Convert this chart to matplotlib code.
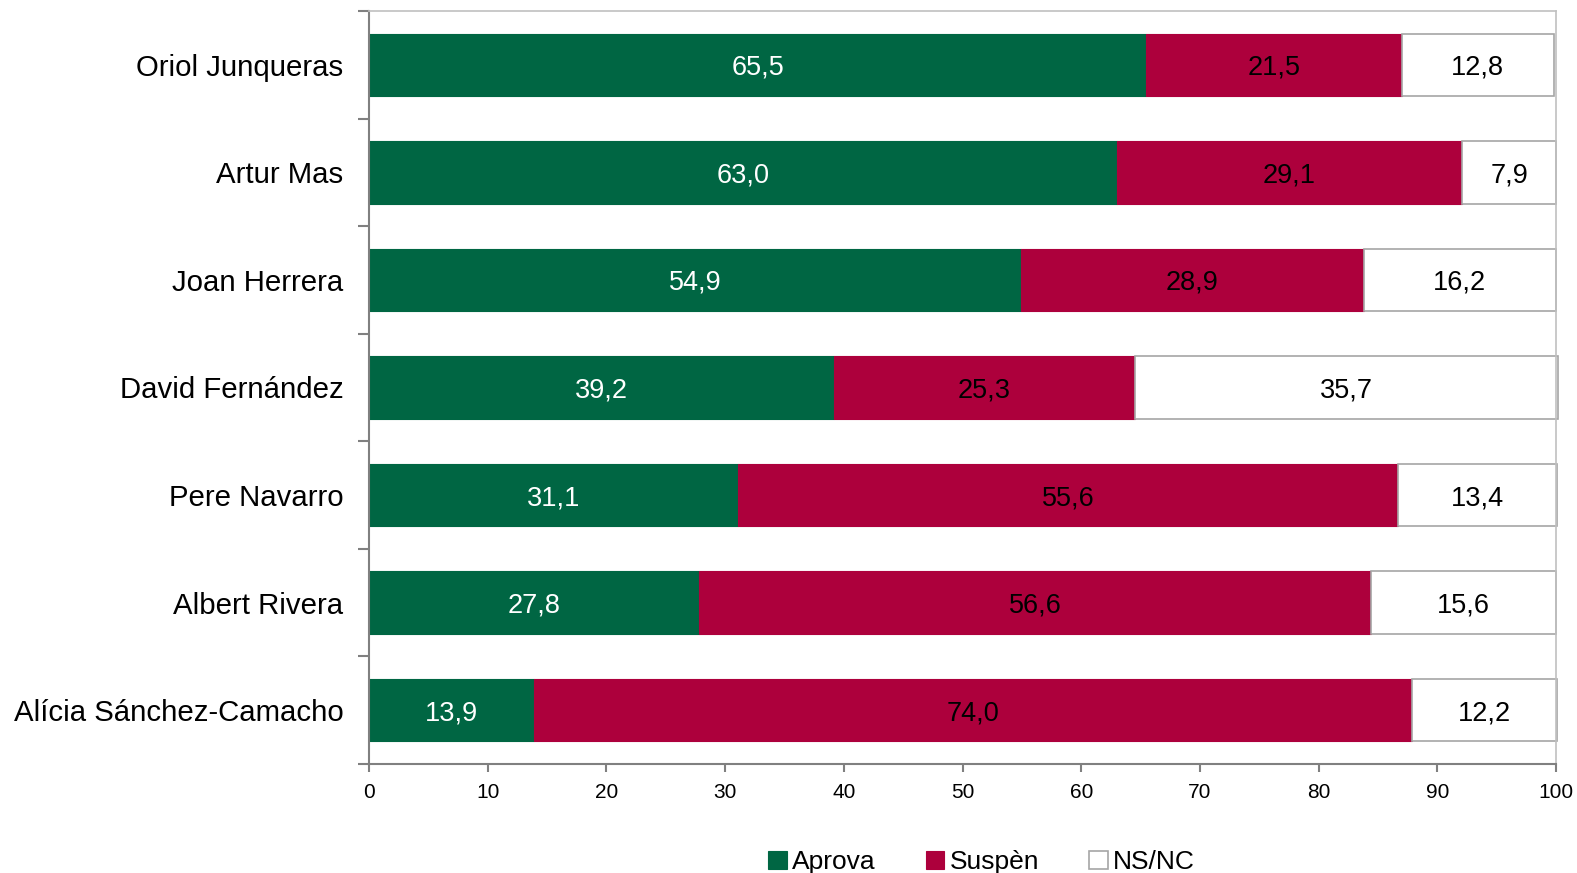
import matplotlib.pyplot as plt
import numpy as np

plt.rcParams['font.family'] = ['Liberation Sans', 'DejaVu Sans']

# data
names = ['Oriol Junqueras', 'Artur Mas', 'Joan Herrera', 'David Fernández',
         'Pere Navarro', 'Albert Rivera', 'Alícia Sánchez-Camacho']
aprova = [65.5, 63.0, 54.9, 39.2, 31.1, 27.8, 13.9]
suspen = [21.5, 29.1, 28.9, 25.3, 55.6, 56.6, 74.0]
nsnc = [12.8, 7.9, 16.2, 35.7, 13.4, 15.6, 12.2]

green = '#006643'
red = '#AD003C'

fig = plt.figure(figsize=(15.77, 8.73), dpi=100)
ax = fig.add_axes([369 / 1577, 1 - 764 / 873, (1556 - 369) / 1577, (764 - 11) / 873])

y = np.arange(len(names))[::-1]
aprova = np.array(aprova)
suspen = np.array(suspen)
nsnc = np.array(nsnc)
h = 0.58

ax.barh(y, aprova, height=h, color=green, edgecolor=green, linewidth=0.8, label='Aprova')
ax.barh(y, suspen, left=aprova, height=h, color=red, edgecolor=red, linewidth=0.8, label='Suspèn')
ax.barh(y, nsnc, left=aprova + suspen, height=h, color='white', edgecolor='#A6A6A6',
        linewidth=1.2, label='NS/NC', clip_on=False)

def fmt(v):
    return f'{v:.1f}'.replace('.', ',')

for i in range(len(names)):
    ax.text(aprova[i] / 2, y[i], fmt(aprova[i]), ha='center', va='center_baseline', color='white', fontsize=19.5)
    ax.text(aprova[i] + suspen[i] / 2, y[i], fmt(suspen[i]), ha='center', va='center_baseline', color='black', fontsize=19.5)
    ax.text(aprova[i] + suspen[i] + nsnc[i] / 2, y[i], fmt(nsnc[i]), ha='center', va='center_baseline', color='black', fontsize=19.5)

ax.set_xlim(0, 100)
ax.set_ylim(-0.5, 6.5)
ax.set_xticks(np.arange(0, 101, 10))
ax.tick_params(axis='x', labelsize=15, length=6, width=1.5, color='#808080', direction='out', pad=8)

ax.set_yticks(y)
ax.set_yticklabels(names, fontsize=21.2)
ax.set_yticks(np.arange(-0.5, 7, 1), minor=True)
ax.tick_params(axis='y', which='major', length=0, pad=18.5)
ax.tick_params(axis='y', which='minor', length=8, width=1.5, color='#808080')

for s in ['left', 'bottom']:
    ax.spines[s].set_color('#808080')
    ax.spines[s].set_linewidth(1.5)
for s in ['top', 'right']:
    ax.spines[s].set_color('#C0C0C0')
    ax.spines[s].set_linewidth(1.2)

ax.legend(loc='upper center', bbox_to_anchor=(0.516, -0.083), ncol=3, frameon=False,
          fontsize=19, handlelength=0.7, handleheight=0.7, handletextpad=0.2, columnspacing=1.9)

fig.savefig('out.png', dpi=100)
